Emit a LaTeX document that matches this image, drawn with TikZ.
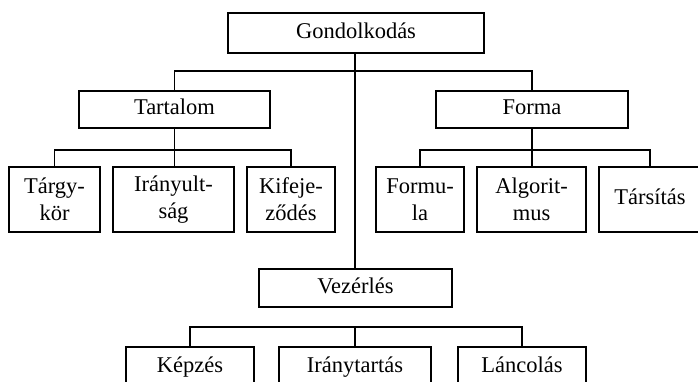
\documentclass[tikz,border=0pt]{standalone}
\usepackage{fontspec}
\setmainfont{Liberation Serif}
\begin{document}
\begin{tikzpicture}[x=1pt,y=-1pt,
  box/.style={draw, line width=1.6pt, inner sep=0pt, align=center,
    font=\fontsize{22.5}{27}\selectfont},
  oneline/.style={box, text height=15pt, text depth=5pt},
  link/.style={line width=1.6pt}]
\useasboundingbox (0,0) rectangle (698,381);
\clip (0,0) rectangle (698,381);
% top level
\node[oneline, minimum width=256, minimum height=40] (g) at (356,33) {Gondolkodás};
% second level
\node[oneline, minimum width=191, minimum height=37] (tart) at (174.5,109.5) {Tartalom};
\node[oneline, minimum width=192, minimum height=37] (forma) at (532,109.5) {Forma};
\node[oneline, minimum width=193, minimum height=38] (vez) at (355.5,288) {Vezérlés};
% children of Tartalom
\node[box, minimum width=91, minimum height=65] (targy) at (54.5,199.5) {Tárgy-\\kör};
\node[box, minimum width=121, minimum height=65] (iranyult) at (173.5,199.5) {Irányult-\\ság};
\node[box, minimum width=88, minimum height=65] (kifej) at (291,199.5) {Kifeje-\\ződés};
% children of Forma
\node[box, minimum width=88, minimum height=65] (formula) at (420,199.5) {Formu-\\la};
\node[box, minimum width=109, minimum height=65] (algo) at (531.5,199.5) {Algorit-\\mus};
\node[oneline, minimum width=102, minimum height=65] (tars) at (650,199.5) {Társítás};
% children of Vezérlés
\node[oneline, minimum width=128, minimum height=40] (kepz) at (190,367) {Képzés};
\node[oneline, minimum width=152, minimum height=40] (iranyt) at (355,367) {Iránytartás};
\node[oneline, minimum width=128, minimum height=40] (lanc) at (522,367) {Láncolás};
% bus lines
\coordinate (b0) at (355,71);
\coordinate (b1) at (174.5,150);
\coordinate (b2) at (532,150);
\coordinate (b3) at (355,327);
\draw[link] (g.south -| b0) -- (vez.north -| b0);
\draw[link] (tart.north) |- (b0) -| (forma.north);
\draw[link] (tart.south) -- (iranyult.north -| b1);
\draw[link] (targy.north) |- (b1) -| (kifej.north);
\draw[link] (forma.south) -- (algo.north -| b2);
\draw[link] (formula.north) |- (b2) -| (tars.north);
\draw[link] (kepz.north) |- (b3) -| (lanc.north);
\draw[link] (b3) -- (iranyt.north -| b3);
\end{tikzpicture}
\end{document}
